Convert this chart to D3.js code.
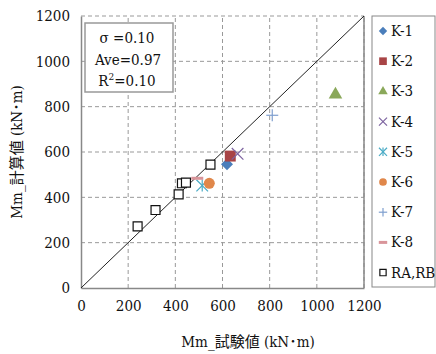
<!DOCTYPE html>
<html>
<head>
<meta charset="utf-8">
<script src="https://cdn.jsdelivr.net/npm/d3@7"></script>
<style>
  body { margin: 0; background: #fff; }
  svg text { font-family: "DejaVu Serif", "Noto Sans CJK JP", serif; font-stretch: condensed; fill: #111; }
</style>
</head>
<body>
<svg id="chart" width="436" height="354"></svg>
<script>
// series data (test value, calculated value) in kN·m
const seriesNames = ['K-1', 'K-2', 'K-3', 'K-4', 'K-5', 'K-6', 'K-7', 'K-8', 'RA,RB'];
const k1 = [[619, 546]];
const k2 = [[633, 582]];
const k3 = [[1079, 853]];
const k4 = [[664, 592]];
const k5 = [[514, 452]];
const k6 = [[544, 462]];
const k7 = [[811, 762]];
const k8 = [[493, 484]];
const rarb = [[240, 272], [316, 344], [414, 413], [428, 462], [445, 465], [549, 544]];
const xTicks = [0, 200, 400, 600, 800, 1000, 1200];
const yTicks = [0, 200, 400, 600, 800, 1000, 1200];
const statLines = ['σ =0.10', 'Ave=0.97', 'R2=0.10'];

const svg = d3.select('#chart');

const x = d3.scaleLinear().domain([0, 1200]).range([81, 364]);
const y = d3.scaleLinear().domain([0, 1200]).range([288, 16]);

// gridlines
const grid = svg.append('g');
grid.selectAll('.gx')
  .data(xTicks.slice(1))
  .enter().append('line')
  .attr('x1', d => x(d)).attr('x2', d => x(d))
  .attr('y1', y(0)).attr('y2', y(1200))
  .attr('stroke', '#999').attr('stroke-dasharray', '4,3');
grid.selectAll('.gy')
  .data(yTicks.slice(1))
  .enter().append('line')
  .attr('y1', d => y(d)).attr('y2', d => y(d))
  .attr('x1', x(0)).attr('x2', x(1200))
  .attr('stroke', '#999').attr('stroke-dasharray', '4,3');

// axes
const xAxis = svg.append('g')
  .attr('transform', 'translate(0,' + y(0) + ')')
  .call(d3.axisBottom(x).tickValues(xTicks).tickFormat(d3.format('d')).tickSize(0).tickPadding(12));
const yAxis = svg.append('g')
  .attr('transform', 'translate(' + x(0) + ',0)')
  .call(d3.axisLeft(y).tickValues(yTicks).tickFormat(d3.format('d')).tickSize(0).tickPadding(11));
[xAxis, yAxis].forEach(a => {
  a.select('.domain').attr('stroke', '#888').attr('stroke-width', 1.5);
  a.selectAll('text').attr('font-size', 15)
    .style('font-family', '"DejaVu Serif", serif').style('font-stretch', 'condensed').attr('fill', '#111');
});
svg.append('line')
  .attr('x1', x(1200)).attr('x2', x(1200))
  .attr('y1', y(0)).attr('y2', y(1200))
  .attr('stroke', '#888').attr('stroke-width', 1.5);

// 1:1 line
svg.append('line')
  .attr('x1', x(0)).attr('y1', y(0))
  .attr('x2', x(1200)).attr('y2', y(1200))
  .attr('stroke', '#222').attr('stroke-width', 1);

// marker styles
const styles = {
  'K-1': {type: 'diamond', size: 6, fill: '#4a7ebb', stroke: 'none'},
  'K-2': {type: d3.symbolSquare, size: 120, fill: '#a84446', stroke: 'none'},
  'K-3': {type: d3.symbolTriangle, size: 80, fill: '#8aa85a', stroke: 'none'},
  'K-4': {type: d3.symbolTimes, size: 90, fill: 'none', stroke: '#7d64a0'},
  'K-5': {type: 'aster', size: 90, fill: 'none', stroke: '#4bacc6'},
  'K-6': {type: d3.symbolCircle, size: 95, fill: '#e0874a', stroke: 'none'},
  'K-7': {type: d3.symbolCross, size: 90, fill: 'none', stroke: '#7f9fcf', plus: true},
  'K-8': {type: 'dash', size: 0, fill: 'none', stroke: '#d9959a'},
  'RA,RB': {type: d3.symbolSquare, size: 80, fill: '#fff', stroke: '#111'}
};

function drawMarker(g, name, scale) {
  const s = styles[name];
  if (s.type === 'dash') {
    g.append('line').attr('x1', -6 * scale).attr('x2', 6 * scale)
      .attr('stroke', s.stroke).attr('stroke-width', 3);
  } else if (s.type === 'diamond') {
    const r = s.size * scale;
    g.append('path').attr('d', 'M0,' + (-r) + 'L' + r + ',0L0,' + r + 'L' + (-r) + ',0Z')
      .attr('fill', s.fill);
  } else if (s.type === 'aster') {
    const r = 6 * scale;
    g.append('path').attr('d', d3.symbol(d3.symbolTimes, s.size * scale * scale)())
      .attr('stroke', s.stroke).attr('fill', 'none').attr('stroke-width', 1.2);
    g.append('line').attr('y1', -r).attr('y2', r)
      .attr('stroke', s.stroke).attr('stroke-width', 1.2);
  } else if (s.plus) {
    const r = 6 * scale;
    g.append('line').attr('x1', -r).attr('x2', r).attr('stroke', s.stroke).attr('stroke-width', 1.2);
    g.append('line').attr('y1', -r).attr('y2', r).attr('stroke', s.stroke).attr('stroke-width', 1.2);
  } else {
    g.append('path').attr('d', d3.symbol(s.type, s.size * scale * scale)())
      .attr('fill', s.fill).attr('stroke', s.stroke).attr('stroke-width', 1.2);
  }
}

const allSeries = [k1, k2, k3, k4, k5, k6, k7, k8, rarb];
allSeries.forEach((pts, i) => {
  const name = seriesNames[i];
  pts.forEach(p => {
    const g = svg.append('g').attr('transform', 'translate(' + x(p[0]) + ',' + y(p[1]) + ')');
    drawMarker(g, name, 1);
  });
});

// stats box
svg.append('rect').attr('x', 85).attr('y', 23).attr('width', 88).attr('height', 69)
  .attr('fill', '#fff').attr('stroke', '#999').attr('stroke-width', 1.5);
const st = svg.append('g').attr('font-size', 15).attr('text-anchor', 'middle');
st.append('text').attr('x', 127).attr('y', 43).text(statLines[0]);
st.append('text').attr('x', 128).attr('y', 65).text(statLines[1]);
const r2 = st.append('text').attr('x', 127).attr('y', 86);
r2.append('tspan').text('R');
r2.append('tspan').attr('font-size', 10).attr('dy', -6).text('2');
r2.append('tspan').attr('dy', 6).text('=0.10');

// legend
svg.append('rect').attr('x', 372).attr('y', 16).attr('width', 63).attr('height', 271)
  .attr('fill', '#fff').attr('stroke', '#888').attr('stroke-width', 1);
seriesNames.forEach((name, i) => {
  const ly = 31 + i * 30.2;
  const g = svg.append('g').attr('transform', 'translate(383,' + ly + ')');
  drawMarker(g, name, 0.7);
  svg.append('text').attr('x', 391).attr('y', ly + 5).attr('font-size', 15).text(name);
});

// axis titles
svg.append('text').attr('x', 248).attr('y', 347).attr('text-anchor', 'middle')
  .attr('font-size', 15).text('Mm_試験値 (kN･m)');
svg.append('text').attr('transform', 'translate(22,152) rotate(-90)')
  .attr('text-anchor', 'middle').attr('font-size', 15).text('Mm_計算値 (kN･m)');
</script>
</body>
</html>
